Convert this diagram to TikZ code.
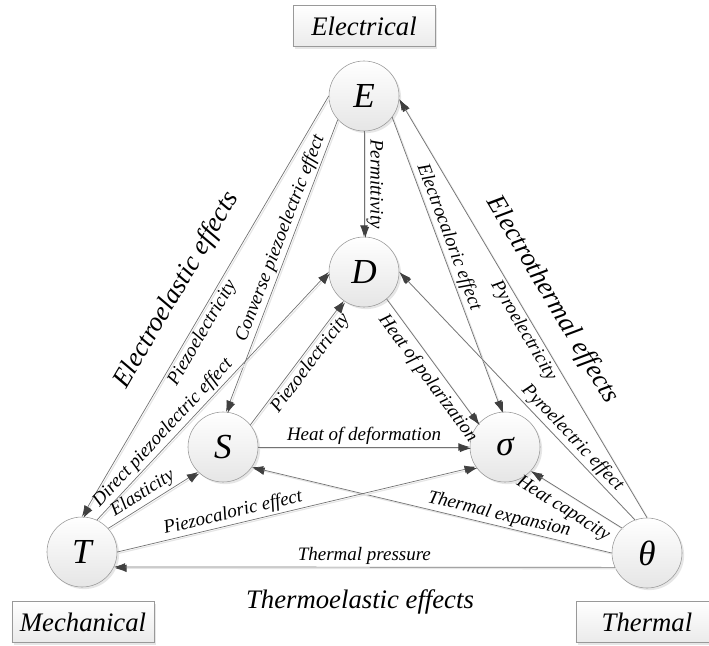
\documentclass[tikz,border=0pt]{standalone}
\usepackage{fontspec}
\setmainfont{Liberation Serif}
\usetikzlibrary{arrows.meta,shadows}

\begin{document}
\begin{tikzpicture}[x=0.025cm,y=-0.025cm,
    quantity/.style={circle,draw=black!40,minimum size=1.75cm,inner sep=0pt,top color=white,bottom color=black!10,
      drop shadow={opacity=0.2,shadow xshift=1.5pt,shadow yshift=-1.5pt},font=\fontsize{25}{25}\selectfont\itshape},
    fieldbox/.style={rectangle,draw=black!40,minimum width=3.55cm,minimum height=1.02cm,top color=white,bottom color=black!8,
      drop shadow={opacity=0.2,shadow xshift=1.5pt,shadow yshift=-1.5pt},font=\fontsize{19}{19}\selectfont\itshape},
    link/.style={draw=black!55,line width=0.5pt,-{Latex[length=8pt,width=5.5pt,color=black!75]},
      preaction={draw=black!10,line width=0.8pt,transform canvas={shift={(1pt,-1pt)}}}},
    lab/.style={font=\fontsize{13.5}{14}\selectfont\itshape,sloped,inner sep=1.5pt},
    effect/.style={font=\fontsize{19}{19}\selectfont\itshape}]
    \useasboundingbox (0,0) rectangle (709,645);
    \node[fieldbox] (elec) at (364,26) {Electrical};
    \node[fieldbox] (mech) at (83,622) {Mechanical};
    \node[fieldbox] (therm) at (647,622) {Thermal};
    \node[quantity] (E) at (364,96) {E};
    \node[quantity] (D) at (364,272) {D};
    \node[quantity] (S) at (223,447) {S};
    \node[quantity] (sig) at (505,447) {σ};
    \node[quantity] (T) at (82,552) {T};
    \node[quantity] (th) at (647,553) {θ};
    \draw[link] (E) -- node[lab,above] {Permittivity} (D);
    \draw[link] (E.west) -- node[lab,below,pos=0.55] {Piezoelectricity} (T.north);
    \draw[link] (E.222) -- node[lab,above,pos=0.42] {Converse piezoelectric effect} (S.85);
    \draw[link] (T.65) -- node[lab,above,pos=0.32] {Direct piezoelectric effect} (D.west);
    \draw[link] (T.42) -- node[lab,above,pos=0.45] {Elasticity} (S.225);
    \draw[link] (S.39) -- node[lab,below,pos=0.55] {Piezoelectricity} (D.235);
    \draw[link] (S) -- node[lab,above] {Heat of deformation} (sig);
    \draw[link] (D.-50) -- node[lab,below=2pt,pos=0.57] {Heat of polarization} (sig.139);
    \draw[link] (E.-37) -- node[lab,above,pos=0.42] {Electrocaloric effect} (sig.95);
    \draw[link] (th.north) -- node[lab,below,pos=0.46] {Pyroelectricity} (E.-5);
    \draw[link] (th.110) -- node[lab,above,pos=0.3] {Pyroelectric effect} (D.east);
    \draw[link] (th.135) -- node[lab,below=3pt,pos=0.56] {Heat capacity} (sig.-43);
    \draw[link] (th.west) -- node[lab,above,pos=0.32] {Thermal expansion} (S.-35);
    \draw[link] (T.east) -- node[lab,above,pos=0.33] {Piezocaloric effect} (sig.214);
    \draw[link] (th.204) -- node[lab,above] {Thermal pressure} (T.-25);
    \node[effect,rotate=59.6] (eltitle) at (177,290) {Electroelastic effects};
    \node[effect,rotate=-59.4] (ettitle) at (552,300) {Electrothermal effects};
    \node[effect] (tetitle) at (360,602) {Thermoelastic effects};
\end{tikzpicture}
\end{document}
